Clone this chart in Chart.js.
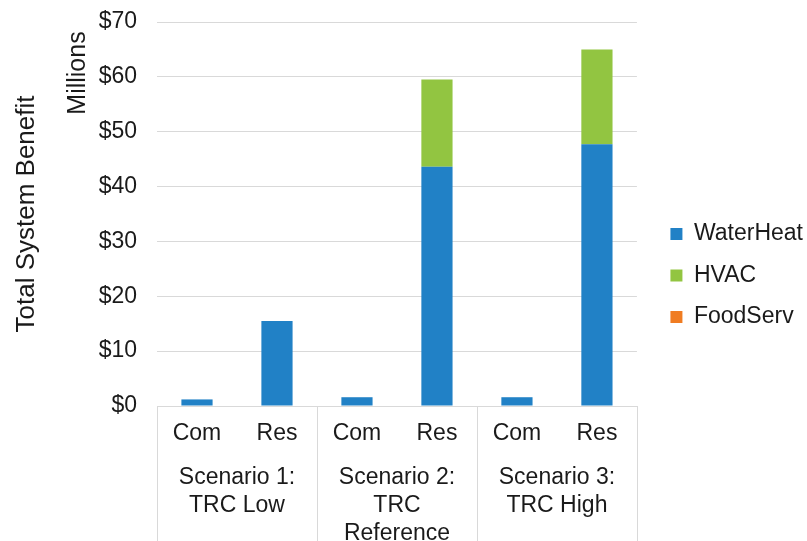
<!DOCTYPE html>
<html>
<head>
<meta charset="utf-8">
<script src="https://cdn.jsdelivr.net/npm/chart.js@4"></script>
<style>
  html, body { margin: 0; padding: 0; background: #fff; }
  #wrap { width: 807px; height: 541px; }
</style>
</head>
<body>
<div id="wrap"><canvas id="benefitChart"></canvas></div>
<script>
var barLabels = ['Com', 'Res', 'Com', 'Res', 'Com', 'Res'];
var scenarioLabels = [['Scenario 1:', 'TRC Low'], ['Scenario 2:', 'TRC', 'Reference'], ['Scenario 3:', 'TRC High']];
var waterHeat = [1.2, 15.5, 1.6, 43.6, 1.6, 47.7];
var hvac = [0, 0, 0, 15.9, 0, 17.3];
var foodServ = [0, 0, 0, 0, 0, 0];
var yTicks = [0, 10, 20, 30, 40, 50, 60, 70];

var textColor = '#1a1a1a';
var gridColor = '#d9d9d9';
var fontFamily = '"Liberation Sans", Arial, sans-serif';

// vertical separators between the scenario groups, below the axis
var groupLines = {
    id: 'groupLines',
    afterDraw: function (chart) {
        var x = chart.scales.x;
        var ctx = chart.ctx;
        var step = x.getPixelForValue(1) - x.getPixelForValue(0);
        ctx.save();
        ctx.strokeStyle = gridColor;
        ctx.lineWidth = 1;
        for (var g = 0; g <= scenarioLabels.length; g++) {
            var px = Math.round(x.getPixelForValue(g * 2) - step / 2) + 0.5;
            ctx.beginPath();
            ctx.moveTo(px, chart.chartArea.bottom);
            ctx.lineTo(px, chart.height);
            ctx.stroke();
        }
        // display units label
        ctx.fillStyle = textColor;
        ctx.font = '25px ' + fontFamily;
        ctx.textAlign = 'center';
        ctx.textBaseline = 'middle';
        ctx.translate(chart.chartArea.left - 79, chart.chartArea.top + 51);
        ctx.rotate(-Math.PI / 2);
        ctx.fillText('Millions', 0, 0);
        ctx.restore();
    }
};

var ctx = document.getElementById('benefitChart').getContext('2d');
var benefitChart = new Chart(ctx, {
    type: 'bar',
    data: {
        labels: barLabels,
        datasets: [
            { label: 'WaterHeat', data: waterHeat, backgroundColor: '#2181c6' },
            { label: 'HVAC', data: hvac, backgroundColor: '#92c541' },
            { label: 'FoodServ', data: foodServ, backgroundColor: '#f07c22' }
        ]
    },
    options: {
        responsive: true,
        maintainAspectRatio: false,
        animation: false,
        layout: { padding: { top: 10, right: -6 } },
        datasets: {
            bar: { barPercentage: 0.39, categoryPercentage: 1 }
        },
        plugins: {
            legend: {
                position: 'right',
                maxWidth: 220,
                labels: {
                    boxWidth: 12,
                    boxHeight: 12,
                    padding: 18.5,
                    color: textColor,
                    font: { family: fontFamily, size: 23 }
                }
            },
            tooltip: { enabled: false }
        },
        scales: {
            x: {
                stacked: true,
                grid: { display: false, drawTicks: false },
                border: { display: true, color: gridColor },
                ticks: { color: textColor, padding: 14, font: { family: fontFamily, size: 23 } },
                afterFit: function (axis) { axis.height = 56; }
            },
            x2: {
                type: 'category',
                labels: scenarioLabels,
                position: 'bottom',
                offset: true,
                grid: { display: false, drawTicks: false },
                border: { display: false },
                ticks: { color: textColor, padding: 2, font: { family: fontFamily, size: 23, lineHeight: 1.22 } },
                afterFit: function (axis) { axis.height = 79; }
            },
            y: {
                stacked: true,
                min: 0,
                max: 70,
                afterBuildTicks: function (axis) {
                    axis.ticks = yTicks.map(function (v) { return { value: v }; });
                },
                afterFit: function (axis) {
                    axis.width = 157;
                    axis.paddingTop = 22;
                    axis.paddingBottom = 0;
                },
                grid: { color: gridColor, drawTicks: false },
                border: { display: false },
                ticks: {
                    color: textColor,
                    padding: 20,
                    font: { family: fontFamily, size: 23 },
                    callback: function (v) { return '$' + v; }
                },
                title: {
                    display: true,
                    text: 'Total System Benefit',
                    color: textColor,
                    padding: { top: 11, bottom: 0 },
                    font: { family: fontFamily, size: 26 }
                }
            },
            yr: {
                position: 'right',
                display: true,
                grid: { display: false },
                border: { display: false },
                ticks: { display: false },
                afterFit: function (axis) { axis.width = 15; }
            }
        }
    },
    plugins: [groupLines]
});
</script>
</body>
</html>
